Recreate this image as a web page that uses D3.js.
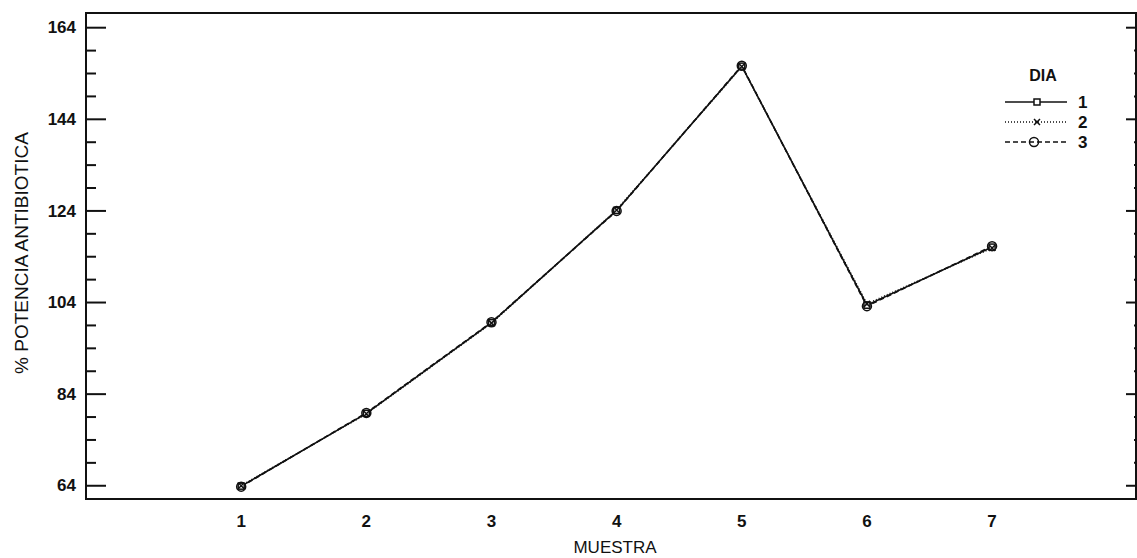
<!DOCTYPE html>
<html>
<head>
<meta charset="utf-8">
<script src="https://cdn.jsdelivr.net/npm/d3@7"></script>
<style>
  body { margin: 0; background: #fff; }
  text { font-family: "Liberation Sans", Arial, sans-serif; fill: #111; }
</style>
</head>
<body>
<div id="chart"></div>
<script>
// values
var muestras = [1, 2, 3, 4, 5, 6, 7];
var dia1 = [63.8, 79.7, 99.5, 124.0, 155.5, 103.3, 116.0];
var dia2 = [63.9, 79.6, 99.4, 124.1, 155.4, 103.6, 115.8];
var dia3 = [63.7, 79.8, 99.6, 123.9, 155.6, 103.1, 116.2];
var dias = ["1", "2", "3"];
var yTicks = [64, 84, 104, 124, 144, 164];

var width = 1137, height = 558;
var plotLeft = 86, plotRight = 1136, plotTop = 13, plotBottom = 499;

var svg = d3.select("#chart").append("svg")
    .attr("width", width)
    .attr("height", height);

var x = d3.scaleLinear().domain([-0.24, 8.15]).range([plotLeft, plotRight]);
var y = d3.scaleLinear().domain([61.0, 167.1]).range([plotBottom, plotTop]);

// frame
svg.append("rect")
    .attr("x", plotLeft).attr("y", plotTop)
    .attr("width", plotRight - plotLeft).attr("height", plotBottom - plotTop)
    .attr("fill", "none").attr("stroke", "#111").attr("stroke-width", 2);

function tickStyle(g){
    g.select(".domain").remove();
    g.selectAll("line").attr("stroke-width", 2).attr("stroke", "#111");
}

// left axis: major + minor ticks
var minor = d3.range(64, 165, 5).filter(function(v){ return yTicks.indexOf(v) < 0; });
svg.append("g").attr("transform", "translate(" + plotLeft + ",0)")
    .call(d3.axisRight(y).tickValues(yTicks).tickSize(20).tickFormat(""))
    .call(tickStyle);
svg.append("g").attr("transform", "translate(" + plotLeft + ",0)")
    .call(d3.axisRight(y).tickValues(minor).tickSize(10).tickFormat(""))
    .call(tickStyle);

// right axis ticks pointing inward
svg.append("g").attr("transform", "translate(" + plotRight + ",0)")
    .call(d3.axisLeft(y).tickValues(yTicks).tickSize(10).tickFormat(""))
    .call(tickStyle);
svg.append("g").attr("transform", "translate(" + plotRight + ",0)")
    .call(d3.axisLeft(y).tickValues(minor).tickSize(2).tickFormat(""))
    .call(tickStyle);

// y tick labels
svg.selectAll(".ylab").data(yTicks).enter().append("text")
    .attr("class", "ylab")
    .attr("x", 76).attr("y", function(d){ return y(d); })
    .attr("dy", "0.36em")
    .attr("text-anchor", "end")
    .style("font-size", "17px").style("font-weight", "bold")
    .text(function(d){ return d; });

// x tick labels
svg.selectAll(".xlab").data(muestras).enter().append("text")
    .attr("class", "xlab")
    .attr("x", function(d){ return x(d); }).attr("y", 527)
    .attr("text-anchor", "middle")
    .style("font-size", "17px").style("font-weight", "bold")
    .text(function(d){ return d; });

// axis titles
svg.append("text")
    .attr("x", 615).attr("y", 553)
    .attr("text-anchor", "middle")
    .style("font-size", "17px")
    .text("MUESTRA");
svg.append("text")
    .attr("transform", "translate(28,253) rotate(-90)")
    .attr("text-anchor", "middle")
    .style("font-size", "19px")
    .text("% POTENCIA ANTIBIOTICA");

// series
var series = [
    {name: dias[0], values: dia1, dash: null, mark: "square"},
    {name: dias[1], values: dia2, dash: "1,2", mark: "cross"},
    {name: dias[2], values: dia3, dash: "5,3", mark: "circle"}
];

var line = d3.line()
    .x(function(d, i){ return x(muestras[i]); })
    .y(function(d){ return y(d); });

function drawMark(g, type, cx, cy){
    if (type == "square") {
        g.append("rect").attr("x", cx - 3).attr("y", cy - 3).attr("width", 6).attr("height", 6)
            .attr("fill", "#fff").attr("stroke", "#111").attr("stroke-width", 1.5);
    } else if (type == "cross") {
        g.append("path").attr("d", "M" + (cx-3) + "," + (cy-3) + "L" + (cx+3) + "," + (cy+3) + "M" + (cx-3) + "," + (cy+3) + "L" + (cx+3) + "," + (cy-3))
            .attr("stroke", "#111").attr("stroke-width", 1.5);
    } else {
        g.append("circle").attr("cx", cx).attr("cy", cy).attr("r", 4.5)
            .attr("fill", "none").attr("stroke", "#111").attr("stroke-width", 1.5);
    }
}

series.forEach(function(s){
    svg.append("path")
        .attr("d", line(s.values))
        .attr("fill", "none").attr("stroke", "#111").attr("stroke-width", 1.6)
        .attr("stroke-dasharray", s.dash);
});
series.forEach(function(s){
    var g = svg.append("g");
    s.values.forEach(function(v, i){ drawMark(g, s.mark, x(muestras[i]), y(v)); });
});

// legend
svg.append("text")
    .attr("x", 1043).attr("y", 81)
    .attr("text-anchor", "middle")
    .style("font-size", "16px").style("font-weight", "bold")
    .text("DIA");
series.forEach(function(s, i){
    var ly = 102 + 20 * i;
    svg.append("line")
        .attr("x1", 1005).attr("x2", 1067).attr("y1", ly).attr("y2", ly)
        .attr("stroke", "#111").attr("stroke-width", 1.6)
        .attr("stroke-dasharray", s.dash);
    var g = svg.append("g");
    drawMark(g, s.mark, i == 2 ? 1034 : 1037, ly);
    svg.append("text")
        .attr("x", 1078).attr("y", ly).attr("dy", "0.36em")
        .style("font-size", "17px").style("font-weight", "bold")
        .text(s.name);
});
</script>
</body>
</html>
